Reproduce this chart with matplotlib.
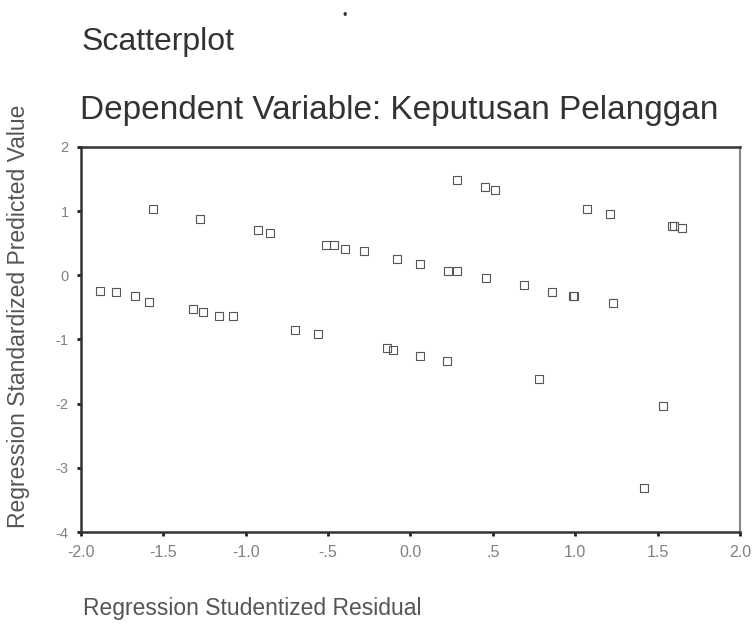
import matplotlib
matplotlib.use("Agg")
import matplotlib.pyplot as plt

plt.rcParams["font.family"] = ["Liberation Sans", "DejaVu Sans"]
plt.rcParams["axes.unicode_minus"] = False

# Regression studentized residual (x) vs standardized predicted value (y)
residual = [
    -1.565, -1.275, -0.925, -0.855, -0.51, -0.465, -0.40, -0.28, -0.08, 0.058,
    0.23, 0.28, 0.46, 0.69, 0.86, 0.985, 0.995, 1.23,
    0.285, 0.45, 0.515, 1.07, 1.21, 1.59, 1.60, 1.65,
    -1.885, -1.79, -1.67, -1.585, -1.32, -1.26, -1.16, -1.08, -0.70, -0.56,
    -0.145, -0.105, 0.06, 0.22, 0.78, 1.535, 1.42,
]
predicted = [
    1.04, 0.87, 0.70, 0.66, 0.48, 0.47, 0.41, 0.38, 0.255, 0.17,
    0.07, 0.07, -0.04, -0.15, -0.26, -0.32, -0.33, -0.43,
    1.48, 1.37, 1.33, 1.04, 0.96, 0.765, 0.77, 0.74,
    -0.25, -0.26, -0.33, -0.42, -0.52, -0.57, -0.63, -0.63, -0.85, -0.91,
    -1.13, -1.16, -1.26, -1.33, -1.61, -2.03, -3.31,
]

x_ticks = [-2.0, -1.5, -1.0, -0.5, 0.0, 0.5, 1.0, 1.5, 2.0]
x_tick_labels = ["-2.0", "-1.5", "-1.0", "-.5", "0.0", ".5", "1.0", "1.5", "2.0"]
y_ticks = [2, 1, 0, -1, -2, -3, -4]

fig = plt.figure(figsize=(7.55, 6.27), dpi=100)
ax = fig.add_axes([0.1073, 0.1515, 0.8727, 0.6141])

ax.plot(residual, predicted, linestyle="none", marker="s", markersize=5.5,
        markerfacecolor="none", markeredgecolor="#555555", markeredgewidth=0.8)

ax.set_xlim(-2, 2)
ax.set_ylim(-4, 2)
ax.set_xticks(x_ticks)
ax.set_xticklabels(x_tick_labels)
ax.set_yticks(y_ticks)
ax.tick_params(direction="out", length=3, width=2, color="#222222",
               labelcolor="#808080", pad=6)
ax.tick_params(axis="x", labelsize=11.5)
ax.tick_params(axis="y", labelsize=10.5)

for side in ["left", "bottom", "top"]:
    ax.spines[side].set_color("#333333")
    ax.spines[side].set_linewidth(1.8)
ax.spines["right"].set_color("#888888")
ax.spines["right"].set_linewidth(1.5)

fig.text(0.108, 1 - 42 / 627, "Scatterplot", fontsize=23, color="#333333",
         ha="left", va="center")
fig.text(0.106, 1 - 110 / 627, "Dependent Variable: Keputusan Pelanggan",
         fontsize=24, color="#333333", ha="left", va="center")
fig.text(19 / 755, 1 - 316 / 627, "Regression Standardized Predicted Value",
         fontsize=16.5, color="#555555", rotation=90, ha="center", va="center")
fig.text(83 / 755, 1 - 608 / 627, "Regression Studentized Residual",
         fontsize=16.5, color="#555555", ha="left", va="center")
fig.text(345 / 755, 1 - 16 / 627, "•", fontsize=9, color="#333333",
         ha="center", va="center")

fig.savefig("out.png", dpi=100)
